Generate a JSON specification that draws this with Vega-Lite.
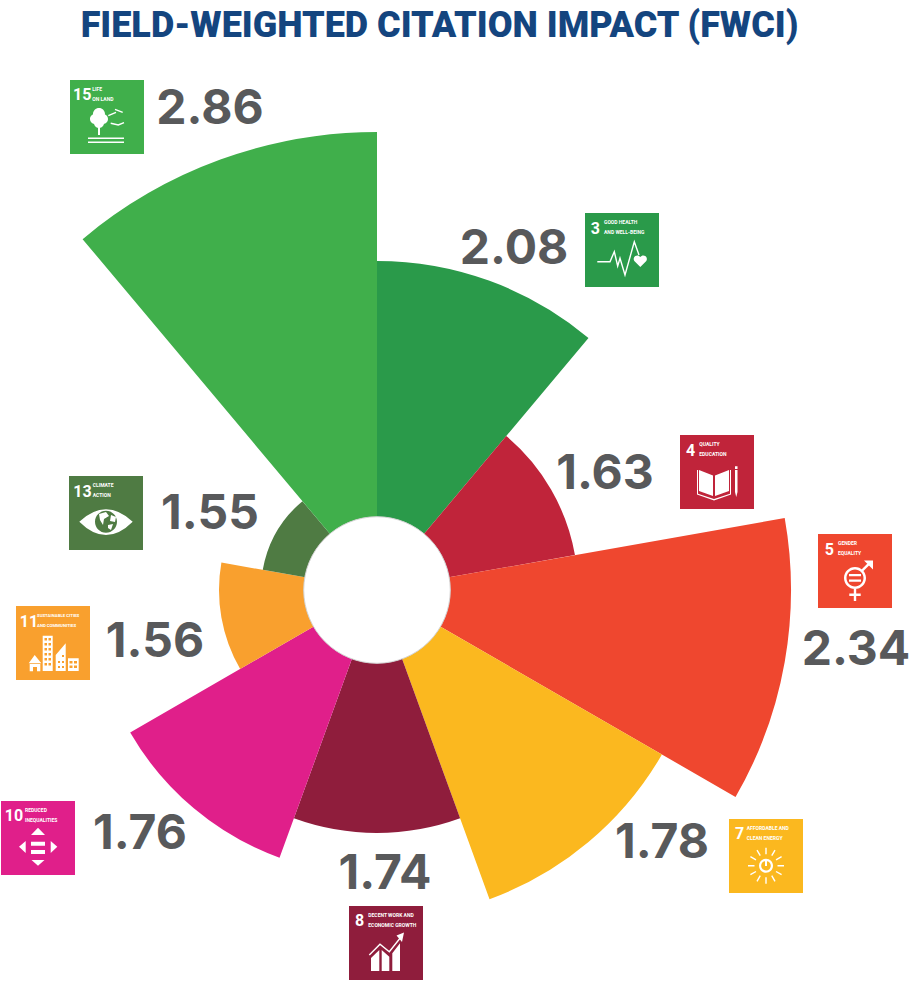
{
"$schema":"https://vega.github.io/schema/vega-lite/v6.json",
"width":909,"height":949,"padding":{"left":0,"right":0,"top":32,"bottom":0},"autosize":"none","background":"white",
"config":{"view":{"stroke":null}},
"title":{"text":"FIELD-WEIGHTED CITATION IMPACT (FWCI)","font":"Roboto","fontWeight":900,"fontSize":36,"color":"#14457f","anchor":"middle","dx":-15,"dy":41,"offset":0,"baseline":"alphabetic"},
"data":{"values":[
{"sdg":3,"goal":"Good Health and Well-being","line1":"GOOD HEALTH","line2":"AND WELL-BEING","fwci":2.08,"share":1},
{"sdg":4,"goal":"Quality Education","line1":"QUALITY","line2":"EDUCATION","fwci":1.63,"share":1},
{"sdg":5,"goal":"Gender Equality","line1":"GENDER","line2":"EQUALITY","fwci":2.34,"share":1},
{"sdg":7,"goal":"Affordable and Clean Energy","line1":"AFFORDABLE AND","line2":"CLEAN ENERGY","fwci":1.78,"share":1},
{"sdg":8,"goal":"Decent Work and Economic Growth","line1":"DECENT WORK AND","line2":"ECONOMIC GROWTH","fwci":1.74,"share":1},
{"sdg":10,"goal":"Reduced Inequalities","line1":"REDUCED","line2":"INEQUALITIES","fwci":1.76,"share":1},
{"sdg":11,"goal":"Sustainable Cities and Communities","line1":"SUSTAINABLE CITIES","line2":"AND COMMUNITIES","fwci":1.56,"share":1},
{"sdg":13,"goal":"Climate Action","line1":"CLIMATE","line2":"ACTION","fwci":1.55,"share":1},
{"sdg":15,"goal":"Life on Land","line1":"LIFE","line2":"ON LAND","fwci":2.86,"share":1}
]},
"resolve":{"scale":{"x":"independent","y":"independent","shape":"independent","size":"independent"}},
"layer":[
{"transform":[{"stack":"share","groupby":[],"sort":[{"field":"sdg","order":"ascending"}],"as":["angle0","angle1"]}],
 "mark":{"type":"arc","innerRadius":73,"opacity":1,"strokeWidth":0},
 "encoding":{
 "x":{"datum":377,"type":"quantitative","scale":{"domain":[0,909],"range":[0,909],"nice":false,"zero":false},"axis":null},
 "y":{"datum":590,"type":"quantitative","scale":{"domain":[32,981],"range":[0,949],"nice":false,"zero":false},"axis":null},
 "theta":{"field":"angle0","type":"quantitative","stack":null,"scale":{"domain":[0,9],"nice":false}},
 "theta2":{"field":"angle1"},
 "radius":{"field":"fwci","type":"quantitative","scale":{"domain":[1.55,1.56,1.63,1.74,1.76,1.78,2.08,2.34,2.86],"range":[116,158,201,243,285,329,329,414,458],"nice":false,"zero":false}},
 "color":{"field":"goal","type":"nominal","legend":null,"scale":{"domain":["Good Health and Well-being","Quality Education","Gender Equality","Affordable and Clean Energy","Decent Work and Economic Growth","Reduced Inequalities","Sustainable Cities and Communities","Climate Action","Life on Land"],"range":["#2a9a4a","#c0243a","#ef472f","#fbb81f","#8f1d3c","#e01f8a","#f9a02e","#4f7b43","#40af4b"]}}
 }},
{"transform":[{"filter":"datum.sdg==3"}],
 "mark":{"type":"point","shape":"circle","filled":true,"size":21490,"color":"white","opacity":1,"stroke":"#d2d2d2","strokeWidth":1},
 "encoding":{
 "x":{"datum":377,"type":"quantitative","scale":{"domain":[0,909],"range":[0,909],"nice":false,"zero":false},"axis":null},
 "y":{"datum":590,"type":"quantitative","scale":{"domain":[32,981],"range":[0,949],"nice":false,"zero":false},"axis":null}
 }},
{"mark":{"type":"text","font":"Inter","fontWeight":700,"fontSize":48,"color":"#58595b","align":"center","baseline":"middle"},
 "encoding":{
 "x":{"field":"sdg","type":"quantitative","axis":null,"scale":{"domain":[3,4,5,7,8,10,11,13,15],"range":[514,605,856,662,385,140,155,210,210],"nice":false,"zero":false}},
 "y":{"field":"sdg","type":"quantitative","axis":null,"scale":{"domain":[3,4,5,7,8,10,11,13,15],"range":[218,443,619,812,843,803,611,483,78],"nice":false,"zero":false}},
 "text":{"field":"fwci","type":"quantitative","format":".2f"}
 }},
{"mark":{"type":"point","shape":"square","filled":true,"size":5476,"opacity":1,"strokeWidth":0},
 "encoding":{
 "x":{"field":"sdg","type":"quantitative","axis":null,"scale":{"domain":[3,4,5,7,8,10,11,13,15],"range":[622,717,855,766,386,38,53,106,107],"nice":false,"zero":false}},
 "y":{"field":"sdg","type":"quantitative","axis":null,"scale":{"domain":[3,4,5,7,8,10,11,13,15],"range":[218,440,539,824,911,806,611,481,85],"nice":false,"zero":false}},
 "color":{"field":"goal","type":"nominal","legend":null,"scale":{"domain":["Good Health and Well-being","Quality Education","Gender Equality","Affordable and Clean Energy","Decent Work and Economic Growth","Reduced Inequalities","Sustainable Cities and Communities","Climate Action","Life on Land"],"range":["#2a9a4a","#c0243a","#ef472f","#fbb81f","#8f1d3c","#e01f8a","#f9a02e","#4f7b43","#40af4b"]}}
 }},
{"mark":{"type":"point","filled":true,"size":4,"color":"white","opacity":1,"strokeWidth":0},
 "encoding":{
 "x":{"field":"sdg","type":"quantitative","axis":null,"scale":{"domain":[3,4,5,7,8,10,11,13,15],"range":[622,717,855,766,386,38,53,106,107],"nice":false,"zero":false}},
 "y":{"field":"sdg","type":"quantitative","axis":null,"scale":{"domain":[3,4,5,7,8,10,11,13,15],"range":[218,440,539,824,911,806,611,481,85],"nice":false,"zero":false}},
 "shape":{"field":"sdg","type":"nominal","legend":null,"scale":{"domain":[3,4,5,7,8,10,11,13,15],"range":[
 "M18.3 17L12.3 11A3.6 3.6 0 0 1 18.3 7A3.6 3.6 0 0 1 24.3 11Z",
 "M-18 -2L-4 3.5V24L-18 19Z M-2 3.5L12 -2V19L-2 24Z M-20 -2H-19V21.8L-3 27L13 21.8V-2H14V22.6L-3 28.5L-20 22.6Z M18 -2H20.5V20L19.25 25L18 20Z M18 -5.7H20.5V-3H18Z",
 "M-11 7A11 11 0 1 1 11 7A11 11 0 1 1 -11 7Z M-8.5 7A8.5 8.5 0 1 0 8.5 7A8.5 8.5 0 1 0 -8.5 7Z M-6 3H6V5.2H-6Z M-6 8.5H6V10.7H-6Z M-1.2 18H1.2V22.5H5.7V24.9H1.2V29.9H-1.2V24.9H-5.7V22.5H-1.2Z M6.5 -1.5L13 -8L14.8 -6.2L8.2 0.3Z M9 -10.5H18V-1.5Z",
 "M-7 9.7A7 7 0 1 1 7 9.7A7 7 0 1 1 -7 9.7Z M-4.8 9.7A4.8 4.8 0 1 0 4.8 9.7A4.8 4.8 0 1 0 -4.8 9.7Z M-1 4H1V10H-1Z",
 "M-15 15L-6.7 7V28H-15Z M-4.3 7L3.3 13.7V28H-4.3Z M6.3 10.3L14 0.3V28H6.3Z M10.5 -7.5L18 -10.5L16 -1Z",
 "M0 -10.3L7 -3H-7Z M0 27.7L-6.5 22H6.5Z M-19 8.7L-12.3 3V15Z M19.3 8.7L12.7 15V3Z M-7 3.7H7V7.7H-7Z M-7 12H7V16H-7Z",
 "M-18.3 12L-11.7 20.3H-24.3Z M-23.3 21H-12.7V28.3H-16V24H-20V28.3H-23.3Z M-10.3 -7.3H-0.3V28H-10.3Z M-8.5 -5v2.5h2.5v-2.5z M-4.5 -5v2.5h2.5v-2.5z M-8.5 0v2.5h2.5v-2.5z M-4.5 0v2.5h2.5v-2.5z M-8.5 5v2.5h2.5v-2.5z M-4.5 5v2.5h2.5v-2.5z M-8.5 10v2.5h2.5v-2.5z M-4.5 10v2.5h2.5v-2.5z M-8.5 15v2.5h2.5v-2.5z M-4.5 15v2.5h2.5v-2.5z M-8.5 20v2.5h2.5v-2.5z M-4.5 20v2.5h2.5v-2.5z M2.7 12L12.7 0.3V28H2.7Z M5 18v2h2v-2z M9 18v2h2v-2z M9 12v2h2v-2z M5 23v2h2v-2z M9 23v2h2v-2z M15 15.3H25.7V28H15Z M16.5 18v2.5h3v-2.5z M21 18v2.5h3v-2.5z M16.5 22.5v2.5h3v-2.5z M21 22.5v2.5h3v-2.5z",
 "M-26.7 8.7Q0 -16.1 26.7 8.7Q0 35.3 -26.7 8.7Z M-11 8.7A11 11 0 1 0 11 8.7A11 11 0 1 0 -11 8.7Z M-7 1L0 -1L3 3L-2 6L-3 12L-6 7Z M5 2L10 4L9 9L4 8Z M2 12L7 11L5 17L2 15Z",
 "M-14 -3A6 6 0 1 1 -2 -3A6 6 0 1 1 -14 -3Z M-17 2A5 5 0 1 1 -7 2A5 5 0 1 1 -17 2Z M-9 2A5 5 0 1 1 1 2A5 5 0 1 1 -9 2Z M-13 6A5 5 0 1 1 -3 6A5 5 0 1 1 -13 6Z M-9 10H-7V18H-9Z M-19 20.6H17V22H-19Z M-19 24.6H17V26H-19Z"
 ]}}
 }},
{"transform":[{"filter":"datum.sdg==3||datum.sdg==7||datum.sdg==8||datum.sdg==15"}],
 "mark":{"type":"point","filled":false,"size":4,"color":"white","opacity":1,"strokeWidth":1.4},
 "encoding":{
 "x":{"field":"sdg","type":"quantitative","axis":null,"scale":{"domain":[3,4,5,7,8,10,11,13,15],"range":[622,717,855,766,386,38,53,106,107],"nice":false,"zero":false}},
 "y":{"field":"sdg","type":"quantitative","axis":null,"scale":{"domain":[3,4,5,7,8,10,11,13,15],"range":[218,440,539,824,911,806,611,481,85],"nice":false,"zero":false}},
 "shape":{"field":"sdg","type":"nominal","legend":null,"scale":{"domain":[3,7,8,15],"range":[
 "M-24.7 11.7H-12L-7.7 1.7L-4.3 16L-2 8.3L3 25L12.3 -8.3L17 5",
 "M0 -1.8V-8.3 M0 21.2V27.7 M5.75 -0.3L9 -5.9 M-5.75 -0.3L-9 -5.9 M5.75 19.7L9 25.3 M-5.75 19.7L-9 25.3 M10 3.9L15.6 0.7 M-10 3.9L-15.6 0.7 M10 15.5L15.6 18.7 M-10 15.5L-15.6 18.7 M11.5 9.7H18 M-11.5 9.7H-18",
 "M-16.7 12L-6 1.3L3.3 8.7L14 -4.7",
 "M1.3 -1.3L9 -4.7 M8 -7.7L15.7 -4.7 M3.7 6.3L11.3 8L17 5.7"
 ]}}
 }},
{"mark":{"type":"text","font":"Roboto","fontWeight":700,"fontSize":16,"color":"white","align":"left","baseline":"alphabetic"},
 "encoding":{
 "x":{"field":"sdg","type":"quantitative","axis":null,"scale":{"domain":[3,4,5,7,8,10,11,13,15],"range":[590.7,686,824.7,735,355,4.7,19.7,73.3,73],"nice":false,"zero":false}},
 "y":{"field":"sdg","type":"quantitative","axis":null,"scale":{"domain":[3,4,5,7,8,10,11,13,15],"range":[202.3,423.7,523,807.3,894,789,594.7,465.3,68],"nice":false,"zero":false}},
 "text":{"field":"sdg","type":"nominal"}
 }},
{"mark":{"type":"text","font":"Roboto","fontWeight":700,"color":"white","align":"left","baseline":"alphabetic"},
 "encoding":{
 "x":{"field":"sdg","type":"quantitative","axis":null,"scale":{"domain":[3,4,5,7,8,10,11,13,15],"range":[604,699.3,838,746.7,368.3,25,37,92.7,92.3],"nice":false,"zero":false}},
 "y":{"field":"sdg","type":"quantitative","axis":null,"scale":{"domain":[3,4,5,7,8,10,11,13,15],"range":[192,414,513,798,885,780,585,455,59],"nice":false,"zero":false}},
 "size":{"condition":{"test":"datum.sdg==11","value":4.3},"value":5},
 "text":{"field":"line1","type":"nominal"}
 }},
{"mark":{"type":"text","font":"Roboto","fontWeight":700,"color":"white","align":"left","baseline":"alphabetic"},
 "encoding":{
 "x":{"field":"sdg","type":"quantitative","axis":null,"scale":{"domain":[3,4,5,7,8,10,11,13,15],"range":[604,699.3,838,746.7,368.3,25,37,92.7,92.3],"nice":false,"zero":false}},
 "y":{"field":"sdg","type":"quantitative","axis":null,"scale":{"domain":[3,4,5,7,8,10,11,13,15],"range":[201.5,423.5,522.5,807.5,894.5,789.5,594.5,464.5,68.5],"nice":false,"zero":false}},
 "size":{"condition":{"test":"datum.sdg==11","value":4.3},"value":5},
 "text":{"field":"line2","type":"nominal"}
 }}
]
}
